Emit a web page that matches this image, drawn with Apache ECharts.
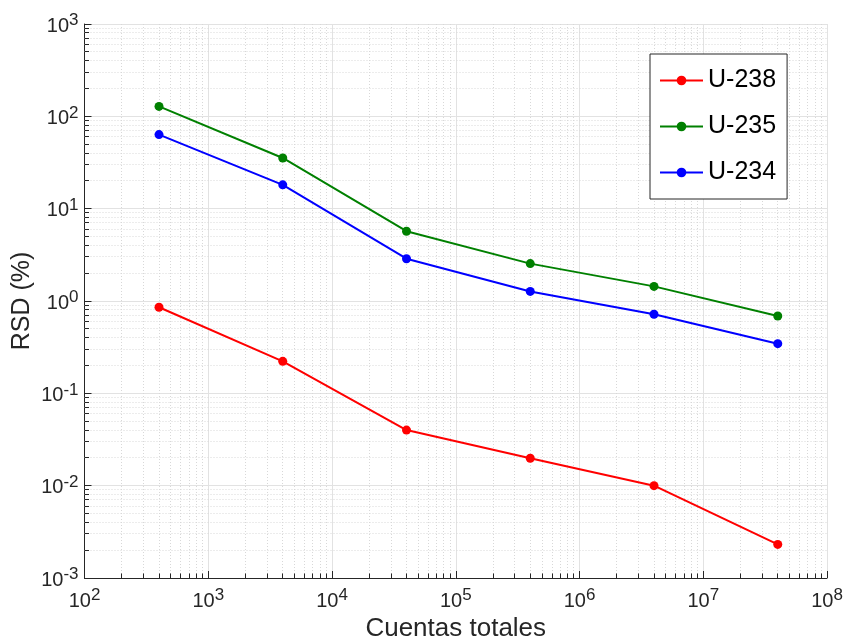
<!DOCTYPE html>
<html>
<head>
<meta charset="utf-8">
<script src="https://cdn.jsdelivr.net/npm/echarts@6/dist/echarts.min.js"></script>
<style>
  html, body { margin: 0; padding: 0; background: #fff; }
  #chart { width: 848px; height: 637px; }
</style>
</head>
<body>
<div id="chart"></div>
<script>
// Total counts (x) and relative standard deviation in % (y) per isotope
const counts = [400, 4000, 40000, 400000, 4000000, 40000000];
const rsdU238 = [0.855, 0.222, 0.040, 0.0198, 0.0100, 0.00231];
const rsdU235 = [128, 35.4, 5.7, 2.54, 1.44, 0.688];
const rsdU234 = [63.4, 18.1, 2.87, 1.27, 0.718, 0.345];
const seriesNames = ['U-238', 'U-235', 'U-234'];
const seriesColors = ['#ff0000', '#008000', '#0000ff'];

// Axis ranges (decades)
const X_MIN = 1e2, X_MAX = 1e8;
const Y_MIN = 1e-3, Y_MAX = 1e3;

const FONT = '"Liberation Sans", Helvetica, Arial, sans-serif';
const INK = '#262626';

// Positions of the 2..9 minor lines inside each decade
function minorValues(lo, hi) {
  const out = [];
  for (let e = Math.round(Math.log10(lo)); e < Math.round(Math.log10(hi)); e++) {
    for (let m = 2; m <= 9; m++) out.push(m * Math.pow(10, e));
  }
  return out;
}
const xMinor = minorValues(X_MIN, X_MAX);
const yMinor = minorValues(Y_MIN, Y_MAX);

// Tick labels as powers of ten with a raised exponent
function powerLabel(v) {
  const e = Math.round(Math.log10(v));
  return '{b|10}{s|' + e + '}';
}
const labelRich = {
  b: { fontSize: 20, fontFamily: FONT, color: INK, lineHeight: 24, verticalAlign: 'bottom' },
  s: { fontSize: 17, fontFamily: FONT, color: INK, lineHeight: 21, verticalAlign: 'top' }
};

const crisp = v => Math.round(v - 0.5) + 0.5;
const minorGridStyle = { stroke: '#d8d8d8', lineWidth: 1, lineDash: [1, 2] };
const minorTickStyle = { stroke: INK, lineWidth: 1 };

function renderMinorX(params, api) {
  const cs = params.coordSys;
  const x = crisp(api.coord([api.value(0), Y_MIN])[0]);
  const bottom = cs.y + cs.height;
  return {
    type: 'group',
    children: [
      { type: 'line', shape: { x1: x, y1: cs.y, x2: x, y2: bottom }, style: minorGridStyle },
      { type: 'line', shape: { x1: x, y1: bottom, x2: x, y2: bottom - 4.5 }, style: minorTickStyle }
    ]
  };
}
function renderMinorY(params, api) {
  const cs = params.coordSys;
  const y = crisp(api.coord([X_MIN, api.value(1)])[1]);
  return {
    type: 'group',
    children: [
      { type: 'line', shape: { x1: cs.x, y1: y, x2: cs.x + cs.width, y2: y }, style: minorGridStyle },
      { type: 'line', shape: { x1: cs.x, y1: y, x2: cs.x + 4.5, y2: y }, style: minorTickStyle }
    ]
  };
}

const rsdSets = [rsdU238, rsdU235, rsdU234];
const lineSeries = seriesNames.map((name, i) => ({
  name: name,
  type: 'line',
  data: counts.map((c, k) => [c, rsdSets[i][k]]),
  symbol: 'circle',
  symbolSize: 9,
  color: seriesColors[i],
  lineStyle: { width: 2, color: seriesColors[i] },
  itemStyle: { color: seriesColors[i] },
  z: 3
}));

const chart = echarts.init(document.getElementById('chart'), null, { renderer: 'canvas' });
chart.setOption({
  animation: false,
  backgroundColor: '#ffffff',
  grid: { left: 84.5, right: 21, top: 24, bottom: 59, containLabel: false, outerBoundsMode: 'none' },
  legend: {
    data: seriesNames,
    orient: 'vertical',
    left: 650,
    top: 54,
    padding: [14, 11, 14, 9],
    itemGap: 21,
    itemWidth: 43,
    itemHeight: 12,
    backgroundColor: '#ffffff',
    borderColor: INK,
    borderWidth: 1,
    textStyle: { fontSize: 25, fontFamily: FONT, color: '#000', lineHeight: 25 }
  },
  xAxis: {
    type: 'log',
    logBase: 10,
    min: X_MIN,
    max: X_MAX,
    splitNumber: 6,
    name: 'Cuentas totales',
    nameLocation: 'middle',
    nameGap: 38,
    nameMoveOverlap: false,
    nameTextStyle: { fontSize: 26, fontFamily: FONT, color: INK },
    axisLine: { show: true, onZero: false, lineStyle: { color: INK, width: 1 } },
    axisTick: { show: true, inside: true, length: 7, lineStyle: { color: INK } },
    axisLabel: { formatter: powerLabel, rich: labelRich, margin: 9 },
    splitLine: { show: true, lineStyle: { color: '#e2e2e2', width: 1 } },
    minorTick: { show: false },
    minorSplitLine: { show: false }
  },
  yAxis: {
    type: 'log',
    logBase: 10,
    min: Y_MIN,
    max: Y_MAX,
    splitNumber: 6,
    name: 'RSD (%)',
    nameLocation: 'middle',
    nameGap: 50,
    nameMoveOverlap: false,
    nameTextStyle: { fontSize: 25, fontFamily: FONT, color: INK },
    axisLine: { show: true, onZero: false, lineStyle: { color: INK, width: 1 } },
    axisTick: { show: true, inside: true, length: 7, lineStyle: { color: INK } },
    axisLabel: { formatter: powerLabel, rich: labelRich, margin: 6 },
    splitLine: { show: true, lineStyle: { color: '#e2e2e2', width: 1 } },
    minorTick: { show: false },
    minorSplitLine: { show: false }
  },
  series: [
    {
      type: 'custom',
      name: 'minorX',
      silent: true,
      z: 1,
      renderItem: renderMinorX,
      encode: { x: 0, y: 1 },
      data: xMinor.map(v => [v, Y_MIN])
    },
    {
      type: 'custom',
      name: 'minorY',
      silent: true,
      z: 1,
      renderItem: renderMinorY,
      encode: { x: 0, y: 1 },
      data: yMinor.map(v => [X_MIN, v])
    }
  ].concat(lineSeries)
});
</script>
</body>
</html>
